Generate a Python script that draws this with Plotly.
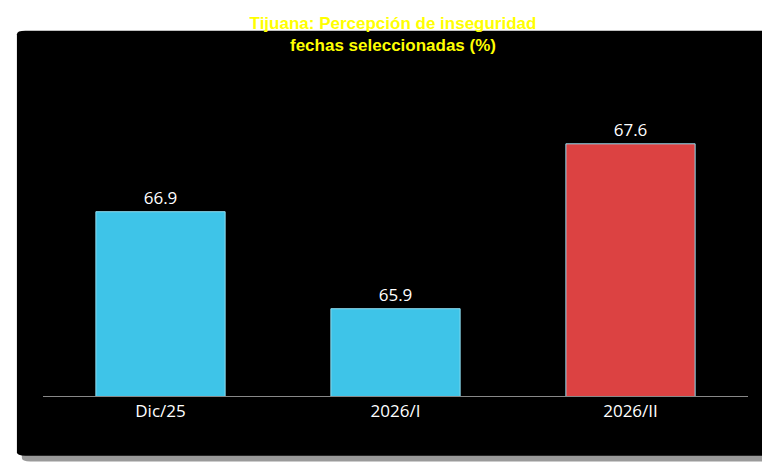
import plotly.graph_objects as go

categories = ["Dic/25", "2026/I", "2026/II"]
values = [66.9, 65.9, 67.6]
colors = ["#3ec4e8", "#3ec4e8", "#dc4242"]

fig = go.Figure()
fig.add_trace(go.Bar(
    x=categories, y=values,
    marker=dict(color=colors, line=dict(color="#8fdcf0", width=1)),
    text=[f"{v:.1f}" for v in values], textposition="outside",
    textfont=dict(color="white", size=17, family="Open Sans"),
    cliponaxis=False,
))

# dark rounded panel with shadow
def rounded(x0, y0, x1, y1, r):
    return (f"M{x0+r},{y0} L{x1-r},{y0} Q{x1},{y0} {x1},{y0+r} L{x1},{y1-r} "
            f"Q{x1},{y1} {x1-r},{y1} L{x0+r},{y1} Q{x0},{y1} {x0},{y1-r} "
            f"L{x0},{y0+r} Q{x0},{y0} {x0+r},{y0} Z")

fig.add_shape(type="path", xref="paper", yref="paper", layer="below",
              path=rounded(-0.03, -0.225, 1.045, 1.245, 0.012),
              fillcolor="#9a9a9a", line=dict(width=0))
fig.add_shape(type="path", xref="paper", yref="paper", layer="below",
              path=rounded(-0.037, -0.205, 1.035, 1.255, 0.012),
              fillcolor="black", line=dict(width=0))

fig.update_layout(
    width=770, height=470,
    paper_bgcolor="white", plot_bgcolor="rgba(0,0,0,0)",
    margin=dict(l=35, r=30, t=97, b=82),
    bargap=0.45, showlegend=False,
    title=dict(text="<b>Tijuana: Percepción de inseguridad<br>fechas seleccionadas (%)</b>",
               x=0.5, xanchor="center", y=0.955, yanchor="top",
               font=dict(color="#ffff00", size=17, family="Liberation Sans")),
    xaxis=dict(showgrid=False, showline=True, linecolor="#888888",
               tickfont=dict(color="white", size=17, family="Open Sans"), ticks=""),
    yaxis=dict(range=[65, 68], visible=False),
)

fig.write_html("out.html")
